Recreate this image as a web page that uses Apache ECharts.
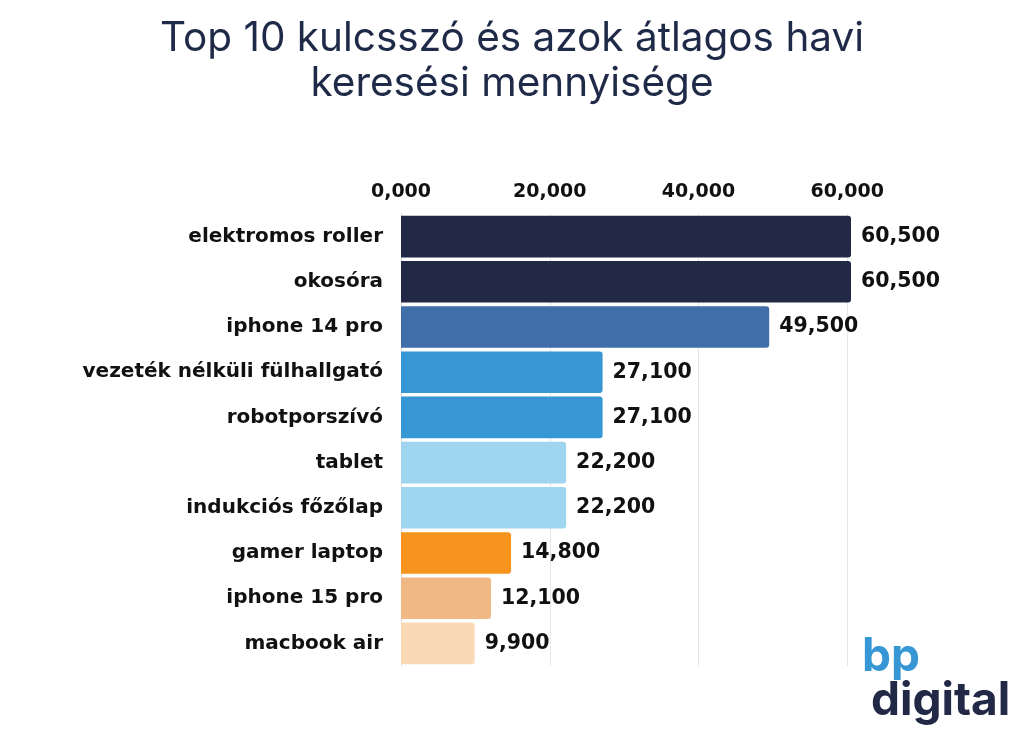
<!DOCTYPE html>
<html>
<head>
<meta charset="utf-8">
<script src="https://cdn.jsdelivr.net/npm/echarts@6/dist/echarts.min.js"></script>
<style>
html,body{margin:0;padding:0;background:#fff;}
#chart{width:1024px;height:742px;}
</style>
</head>
<body>
<div id="chart"></div>
<script>
const titleLines = ['Top 10 kulcsszó és azok átlagos havi', 'keresési mennyisége'];
const categories = ['elektromos roller','okosóra','iphone 14 pro','vezeték nélküli fülhallgató','robotporszívó','tablet','indukciós főzőlap','gamer laptop','iphone 15 pro','macbook air'];
const values = [60500, 60500, 49500, 27100, 27100, 22200, 22200, 14800, 12100, 9900];
const barColors = ['#212946','#212946','#3f6ea8','#3796d4','#3796d4','#9fd5ef','#9fd5ef','#f7941d','#efb885','#f9d9b6'];
const tickStep = 20000;

const chart = echarts.init(document.getElementById('chart'));
const fmt = v => v === 0 ? '0,000' : v.toLocaleString('en-US');
const FONT = '"DejaVu Sans", Inter, sans-serif';
const TFONT = 'Inter, "Open Sans", sans-serif';

chart.setOption({
  backgroundColor: '#ffffff',
  animation: false,
  title: {
    text: titleLines.join('\n'),
    left: 'center',
    top: 11,
    textStyle: { fontFamily: TFONT, fontWeight: 400, fontSize: 40.5, lineHeight: 45, color: '#1f2a48' }
  },
  grid: { left: 401, top: 214, width: 450, height: 452, containLabel: false },
  xAxis: {
    type: 'value',
    position: 'top',
    min: 0,
    max: 60500,
    interval: tickStep,
    axisLine: { show: false },
    axisTick: { show: false },
    axisLabel: {
      margin: 12,
      fontFamily: FONT, fontWeight: 700, fontSize: 19, color: '#111111',
      formatter: v => (v % tickStep === 0) ? fmt(v) : ''
    },
    splitLine: { show: true, lineStyle: { color: ['#e6e6e6','#e6e6e6','#e6e6e6','#e6e6e6','rgba(0,0,0,0)'], width: 1 } }
  },
  yAxis: {
    type: 'category',
    inverse: true,
    data: categories,
    axisLine: { show: true, lineStyle: { color: '#dddddd', width: 1 } },
    axisTick: { show: false },
    axisLabel: { margin: 18, fontFamily: FONT, fontWeight: 700, fontSize: 20, color: '#111111' }
  },
  series: [{
    type: 'bar',
    data: values.map((v, i) => ({ value: v, itemStyle: { color: barColors[i] } })),
    barCategoryGap: '8%',
    itemStyle: { borderRadius: [0, 3, 3, 0] },
    label: {
      show: true,
      position: 'right',
      distance: 10,
      fontFamily: FONT, fontWeight: 700, fontSize: 20.5, color: '#111111',
      formatter: p => fmt(p.value)
    }
  }],
  graphic: [
    { type: 'text', style: { x: 862, y: 634, text: 'bp', fontFamily: TFONT, fontWeight: 700, fontSize: 46, fill: '#3796d4' } },
    { type: 'text', style: { x: 871, y: 678, text: 'digital', fontFamily: TFONT, fontWeight: 700, fontSize: 46, fill: '#212946' } }
  ]
});
</script>
</body>
</html>
